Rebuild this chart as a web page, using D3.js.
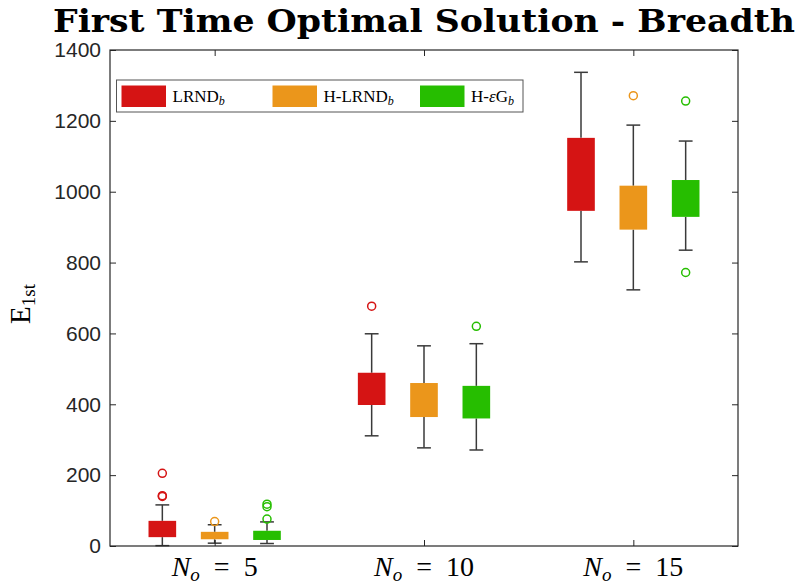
<!DOCTYPE html>
<html>
<head>
<meta charset="utf-8">
<script src="https://cdn.jsdelivr.net/npm/d3@7/dist/d3.min.js"></script>
<style>
  body { margin: 0; background: #ffffff; }
  svg { display: block; }
</style>
</head>
<body>
<svg id="chart" width="800" height="585"></svg>
<script>
// Number of obstacles per group
const groups = [5, 10, 15];
const seriesNames = ["LRND", "H-LRND", "H-\u03B5G"];
const seriesColors = ["#d51414", "#eb961b", "#26be00"];

// Box statistics per group: [lower whisker, Q1, Q3, upper whisker]
const lrndBoxes  = [[1, 25, 71, 116], [311, 398, 489, 599], [802, 946, 1152, 1337]];
const hlrndBoxes = [[8, 19, 40, 60],  [277, 364, 460, 565], [723, 893, 1017, 1188]];
const hegBoxes   = [[7, 17, 43, 68],  [271, 360, 452, 571], [835, 929, 1033, 1143]];

// Outliers per group
const lrndOutliers  = [[205, 142, 140], [677], []];
const hlrndOutliers = [[69], [], [1271]];
const hegOutliers   = [[118, 111, 76], [620], [1256, 772]];

const yTicks = [0, 200, 400, 600, 800, 1000, 1200, 1400];

const boxes = [lrndBoxes, hlrndBoxes, hegBoxes];
const outliers = [lrndOutliers, hlrndOutliers, hegOutliers];

const plotLeft = 110, plotRight = 738, plotTop = 50, plotBottom = 546;
const axisColor = "#262626";
const whiskerColor = "#3a3a3a";

const svg = d3.select("#chart");

const x = d3.scaleLinear().domain([0.5, 3.5]).range([plotLeft, plotRight]);
const y = d3.scaleLinear().domain([0, 1400]).range([plotBottom, plotTop]);

const offset = 0.25;      // spacing of series inside a group (domain units)
const boxHalf = 0.066;    // half box width
const capHalf = 0.033;    // half whisker-cap width

// Boxes, whiskers and outliers
boxes.forEach((series, s) => {
  const g = svg.append("g").attr("class", "series-" + s);
  series.forEach((st, i) => {
    const cx = i + 1 + (s - 1) * offset;
    const [lo, q1, q3, hi] = st;
    // whisker stems
    g.append("line")
      .attr("x1", x(cx)).attr("x2", x(cx))
      .attr("y1", y(hi)).attr("y2", y(q3))
      .attr("stroke", whiskerColor).attr("stroke-width", 1.5);
    g.append("line")
      .attr("x1", x(cx)).attr("x2", x(cx))
      .attr("y1", y(q1)).attr("y2", y(lo))
      .attr("stroke", whiskerColor).attr("stroke-width", 1.5);
    // caps
    [lo, hi].forEach(v => {
      g.append("line")
        .attr("x1", x(cx - capHalf)).attr("x2", x(cx + capHalf))
        .attr("y1", y(v)).attr("y2", y(v))
        .attr("stroke", whiskerColor).attr("stroke-width", 1.5);
    });
    // box
    g.append("rect")
      .attr("x", x(cx - boxHalf))
      .attr("y", y(q3))
      .attr("width", x(cx + boxHalf) - x(cx - boxHalf))
      .attr("height", y(q1) - y(q3))
      .attr("fill", seriesColors[s]);
    // outliers
    outliers[s][i].forEach(v => {
      g.append("circle")
        .attr("cx", x(cx)).attr("cy", y(v)).attr("r", 4)
        .attr("fill", "none")
        .attr("stroke", seriesColors[s]).attr("stroke-width", 1.5);
    });
  });
});

// Axes (ticks pointing inward)
const fontSans = "'Liberation Sans', Arial, sans-serif";
const fontSerif = "'Liberation Serif', 'DejaVu Serif', serif";

const yLeft = svg.append("g")
  .attr("transform", `translate(${plotLeft},0)`)
  .call(d3.axisLeft(y).tickValues(yTicks).tickSize(-6).tickPadding(9)
    .tickFormat(d3.format("d")));
yLeft.select(".domain").remove();
yLeft.selectAll("line").attr("stroke", axisColor);
yLeft.selectAll("text")
  .attr("font-family", fontSans).attr("font-size", 21).attr("fill", axisColor);

const yRight = svg.append("g")
  .attr("transform", `translate(${plotRight},0)`)
  .call(d3.axisRight(y).tickValues(yTicks).tickSize(-6).tickFormat(""));
yRight.select(".domain").remove();
yRight.selectAll("line").attr("stroke", axisColor);

const xBottom = svg.append("g")
  .attr("transform", `translate(0,${plotBottom})`)
  .call(d3.axisBottom(x).tickValues([1, 2, 3]).tickSize(-6).tickFormat(""));
xBottom.select(".domain").remove();
xBottom.selectAll("line").attr("stroke", axisColor);

const xTop = svg.append("g")
  .attr("transform", `translate(0,${plotTop})`)
  .call(d3.axisTop(x).tickValues([1, 2, 3]).tickSize(-6).tickFormat(""));
xTop.select(".domain").remove();
xTop.selectAll("line").attr("stroke", axisColor);

// Frame
svg.append("rect")
  .attr("x", plotLeft).attr("y", plotTop)
  .attr("width", plotRight - plotLeft).attr("height", plotBottom - plotTop)
  .attr("fill", "none").attr("stroke", axisColor).attr("stroke-width", 1.2);

// Group labels: N_o = n
groups.forEach((n, i) => {
  const t = svg.append("text")
    .attr("x", x(i + 1)).attr("y", 576)
    .attr("text-anchor", "middle")
    .attr("font-family", fontSerif).attr("font-size", 28).attr("fill", "#000")
    .attr("xml:space", "preserve");
  t.append("tspan").attr("font-style", "italic").text("N");
  t.append("tspan").attr("font-style", "italic").attr("font-size", 19)
    .attr("dy", 5).text("o");
  t.append("tspan").attr("dy", -5).text("\u2002=\u2002" + n);
});

// Y axis label: E_1st
const yl = svg.append("text")
  .attr("transform", "translate(30,304) rotate(-90)")
  .attr("text-anchor", "middle")
  .attr("font-family", fontSerif).attr("font-size", 29).attr("fill", "#000");
yl.append("tspan").text("E");
yl.append("tspan").attr("font-size", 19).attr("dy", 5).text("1st");

// Title
svg.append("text")
  .attr("x", (plotLeft + plotRight) / 2).attr("y", 32)
  .attr("text-anchor", "middle")
  .attr("font-family", "'DejaVu Serif', serif").attr("font-weight", "bold")
  .attr("font-size", 31).attr("fill", "#000")
  .attr("textLength", 742).attr("lengthAdjust", "spacingAndGlyphs")
  .text("First Time Optimal Solution - Breadth");

// Legend
const legend = svg.append("g");
legend.append("rect")
  .attr("x", 116.5).attr("y", 80).attr("width", 406.5).attr("height", 32)
  .attr("fill", "#fff").attr("stroke", "#555").attr("stroke-width", 1);
const legendX = [121.5, 272.5, 420];
seriesNames.forEach((name, s) => {
  legend.append("rect")
    .attr("x", legendX[s]).attr("y", 85.5)
    .attr("width", 44.5).attr("height", 21.5)
    .attr("fill", seriesColors[s]);
  const t = legend.append("text")
    .attr("x", legendX[s] + 51).attr("y", 102)
    .attr("font-family", fontSerif).attr("font-size", 17).attr("fill", "#000");
  if (s === 2) {
    t.append("tspan").text("H-");
    t.append("tspan").attr("font-style", "italic").text("\u03B5");
    t.append("tspan").text("G");
  } else {
    t.append("tspan").text(name);
  }
  t.append("tspan").attr("font-style", "italic").attr("font-size", 12)
    .attr("dy", 3).text("b");
});
</script>
</body>
</html>
